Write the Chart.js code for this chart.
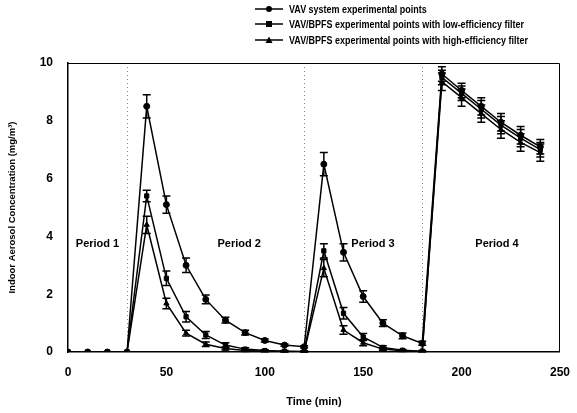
<!DOCTYPE html>
<html>
<head>
<meta charset="utf-8">
<script src="https://cdn.jsdelivr.net/npm/chart.js@4/dist/chart.umd.min.js"></script>
<style>
  html, body { margin: 0; padding: 0; background: #fff; }
  #wrap { position: relative; width: 577px; height: 413px; }
  #legend { position: absolute; left: 255px; top: 1px; font: bold 11.5px "Liberation Sans", Arial, sans-serif; color: #000; }
  .li { height: 15.5px; display: flex; align-items: center; white-space: nowrap; }
  .li svg { margin-right: 6px; }
  .li span { display: inline-block; transform: scaleX(0.78); transform-origin: 0 50%; }
</style>
</head>
<body>
<div id="wrap">
  <canvas id="c" width="577" height="413"></canvas>
  <div id="legend"></div>
</div>
<script>
const times = [0,10,20,30,40,50,60,70,80,90,100,110,120,130,140,150,160,170,180,190,200,210,220,230,240];
const seriesNames = [
  'VAV system experimental points',
  'VAV/BPFS experimental points with low-efficiency filter',
  'VAV/BPFS experimental points with high-efficiency filter'
];
const vav  = [0,0,0,0,8.5,5.1,3.0,1.82,1.1,0.67,0.4,0.24,0.18,6.5,3.45,1.92,1.0,0.56,0.3,9.62,9.05,8.5,7.95,7.5,7.1];
const low  = [0,0,0,0,5.4,2.55,1.22,0.59,0.24,0.1,0.05,0.03,0.02,3.5,1.34,0.52,0.16,0.06,0.03,9.5,8.95,8.4,7.85,7.4,7.0];
const high = [0,0,0,0,4.4,1.68,0.65,0.27,0.12,0.05,0.03,0.02,0.01,2.9,0.76,0.32,0.1,0.04,0.02,9.35,8.8,8.25,7.7,7.25,6.9];
const vavErr  = [0,0,0,0,0.4,0.3,0.25,0.15,0.1,0.08,0.05,0.04,0.04,0.4,0.3,0.2,0.12,0.1,0.07,0.25,0.25,0.3,0.3,0.3,0.25];
const lowErr  = [0,0,0,0,0.2,0.25,0.18,0.12,0.08,0.05,0.03,0.02,0.02,0.25,0.2,0.12,0.06,0.03,0.02,0.25,0.25,0.3,0.3,0.3,0.25];
const highErr = [0,0,0,0,0.3,0.18,0.1,0.08,0.05,0.03,0.02,0.02,0.01,0.3,0.15,0.1,0.05,0.02,0.01,0.3,0.3,0.3,0.3,0.3,0.3];
const markers = ['circle','rect','triangle'];
const periodBounds = [30,120,180];
const periodLabels = ['Period 1','Period 2','Period 3','Period 4'];
const periodLabelX = [15,87,155,218];
const periodLabelY = 3.75;
const xTicks = [0,50,100,150,200,250];
const yTicks = [0,2,4,6,8,10];

const FONT = '"Liberation Sans", Arial, sans-serif';
const values = [vav, low, high];
const errs = [vavErr, lowErr, highErr];

const datasets = values.map((v, i) => ({
  label: seriesNames[i],
  data: times.map((t, j) => ({x: t, y: v[j]})),
  errors: errs[i],
  borderColor: '#000',
  backgroundColor: '#000',
  borderWidth: 1.5,
  pointStyle: markers[i],
  pointRadius: 3,
  pointBorderWidth: 1,
  tension: 0,
  fill: false
}));

const extras = {
  id: 'extras',
  beforeDatasetsDraw(chart) {
    const {ctx, scales: {x, y}, chartArea: a} = chart;
    ctx.save();
    ctx.strokeStyle = '#888';
    ctx.lineWidth = 1;
    ctx.setLineDash([1, 3]);
    periodBounds.forEach(b => {
      const px = Math.round(x.getPixelForValue(b)) + 0.5;
      ctx.beginPath();
      ctx.moveTo(px, y.getPixelForValue(10));
      ctx.lineTo(px, y.getPixelForValue(0));
      ctx.stroke();
    });
    ctx.setLineDash([]);
    ctx.strokeStyle = '#000';
    ctx.lineWidth = 1;
    ctx.beginPath();
    ctx.moveTo(a.left, a.top + 0.5);
    ctx.lineTo(a.right - 0.5, a.top + 0.5);
    ctx.lineTo(a.right - 0.5, a.bottom);
    ctx.stroke();
    ctx.fillStyle = '#000';
    ctx.font = 'bold 11px ' + FONT;
    ctx.textAlign = 'center';
    ctx.textBaseline = 'middle';
    periodLabels.forEach((l, i) => {
      ctx.fillText(l, x.getPixelForValue(periodLabelX[i]), y.getPixelForValue(periodLabelY));
    });
    ctx.restore();
  },
  afterDatasetsDraw(chart) {
    const {ctx, scales: {x, y}} = chart;
    ctx.save();
    ctx.strokeStyle = '#000';
    ctx.lineWidth = 1.5;
    chart.data.datasets.forEach(ds => {
      ds.data.forEach((p, j) => {
        const e = ds.errors[j];
        if (!e) return;
        const px = x.getPixelForValue(p.x);
        const top = y.getPixelForValue(p.y + e);
        const bot = y.getPixelForValue(Math.max(0, p.y - e));
        ctx.beginPath();
        ctx.moveTo(px, top); ctx.lineTo(px, bot);
        ctx.moveTo(px - 4, top); ctx.lineTo(px + 4, top);
        ctx.moveTo(px - 4, bot); ctx.lineTo(px + 4, bot);
        ctx.stroke();
      });
    });
    ctx.restore();
  }
};

new Chart(document.getElementById('c'), {
  type: 'line',
  data: { datasets },
  options: {
    responsive: false,
    animation: false,
    layout: { padding: { left: 0, right: 11, top: 63, bottom: 0 } },
    plugins: { legend: { display: false }, tooltip: { enabled: false } },
    scales: {
      x: {
        type: 'linear', min: 0, max: 250,
        afterBuildTicks: s => { s.ticks = xTicks.map(v => ({value: v})); },
        afterFit: s => { s.height = 61; },
        grid: { display: false, drawOnChartArea: false, drawTicks: true, tickLength: 6, tickColor: '#000' },
        border: { display: true, color: '#000', width: 1.5 },
        ticks: { color: '#000', font: { family: FONT, size: 12, weight: 'bold' }, padding: 7, maxRotation: 0 },
        title: { display: true, text: 'Time (min)', color: '#000', font: { family: FONT, size: 11, weight: 'bold' }, padding: { top: 8 } }
      },
      y: {
        type: 'linear', min: 0, max: 10,
        afterBuildTicks: s => { s.ticks = yTicks.map(v => ({value: v})); },
        afterFit: s => { s.width = 68; },
        grid: { display: false, drawOnChartArea: false, drawTicks: true, tickLength: 6, tickColor: '#000' },
        border: { display: true, color: '#000', width: 1.5 },
        ticks: { color: '#000', font: { family: FONT, size: 12, weight: 'bold' }, padding: 9 },
        title: { display: true, text: 'Indoor Aerosol Concentration (mg/m³)', color: '#000', font: { family: FONT, size: 9.5, weight: 'bold' }, padding: { top: 7, bottom: 4 } }
      }
    }
  },
  plugins: [extras]
});

const leg = document.getElementById('legend');
seriesNames.forEach((n, i) => {
  const d = document.createElement('div');
  d.className = 'li';
  let m = '';
  if (markers[i] === 'circle') m = '<circle cx="14" cy="5" r="3" fill="#000"/>';
  else if (markers[i] === 'rect') m = '<rect x="11" y="2" width="6" height="6" fill="#000"/>';
  else m = '<polygon points="14,1.5 17.5,8 10.5,8" fill="#000"/>';
  d.innerHTML = '<svg width="28" height="10"><line x1="0" y1="5" x2="28" y2="5" stroke="#000" stroke-width="1.5"/>' + m + '</svg><span>' + n + '</span>';
  leg.appendChild(d);
});
</script>
</body>
</html>
